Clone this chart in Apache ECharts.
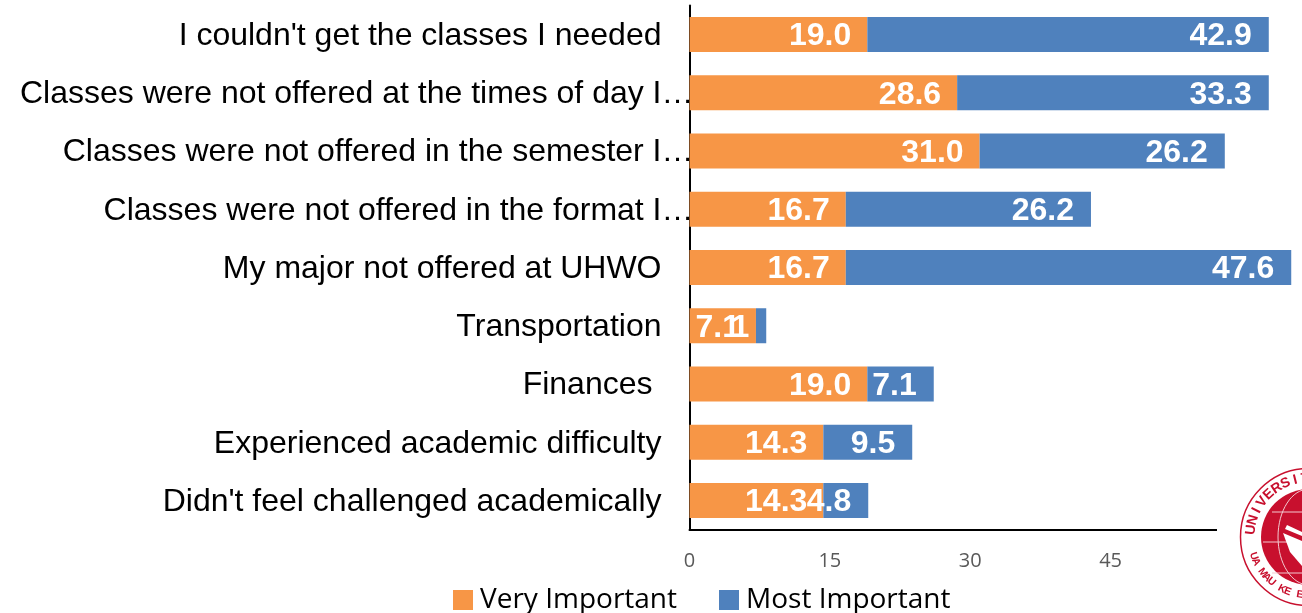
<!DOCTYPE html>
<html><head><meta charset="utf-8">
<style>html,body{margin:0;padding:0;background:#fff}#c{width:1302px;height:613px}</style>
<script src="https://cdn.jsdelivr.net/npm/echarts@6/dist/echarts.min.js"></script>
</head><body><div id="c"></div>
<script>
const categories = ["I couldn't get the classes I needed","Classes were not offered at the times of day I…","Classes were not offered in the semester I…","Classes were not offered in the format I…","My major not offered at UHWO","Transportation","Finances","Experienced academic difficulty","Didn't feel challenged academically"];
const veryImportant = [19.0,28.6,31.0,16.7,16.7,7.1,19.0,14.3,14.3];
const mostImportant = [42.9,33.3,26.2,26.2,47.6,1.1,7.1,9.5,4.8];
const mostLabels = ["42.9","33.3","26.2","26.2","47.6","1","7.1","9.5","4.8"];
const xTicks = [0,15,30,45];
const seriesNames = ["Very Important","Most Important"];
const colors = ["#F79646","#4F81BD"];

const red = "#C8102E";
const cx = 1309, cy = 537;
const logo = [
  {type:'rect',z:100,shape:{x:1217,y:462,width:85,height:151},style:{fill:'#fff'}},
  {type:'circle',z:101,shape:{cx,cy,r:68.5},style:{fill:'#fff',stroke:red,lineWidth:1.5}},
  {type:'circle',z:101,shape:{cx,cy,r:48},style:{fill:red}},
  {type:'ellipse',z:102,shape:{cx,cy,rx:31,ry:48},style:{fill:'none',stroke:'#f3c9cf',lineWidth:1}},
  {type:'line',z:102,shape:{x1:1272,y1:512,x2:1302,y2:512},style:{stroke:'#f3c9cf',lineWidth:1}},
  {type:'line',z:102,shape:{x1:1263,y1:542,x2:1302,y2:542},style:{stroke:'#f3c9cf',lineWidth:1}},
  {type:'line',z:102,shape:{x1:1272,y1:573,x2:1302,y2:573},style:{stroke:'#f3c9cf',lineWidth:1}},
  {type:'polygon',z:102,shape:{points:[[1283,533],[1302,541],[1302,566],[1290,552]]},style:{fill:'#fff'}},
  {type:'polygon',z:102,shape:{points:[[1287,525],[1302,532],[1302,536],[1285,529]]},style:{fill:'#fff'}}
];
function arcText(str, startDeg, stepDeg, r, flip, size){
  [...str].forEach((ch,i)=>{
    const a = (startDeg + i*stepDeg)*Math.PI/180;
    const x = cx + r*Math.cos(a), y = cy + r*Math.sin(a);
    logo.push({type:'text',z:103,x,y,rotation:flip ? -(a-Math.PI/2) : -(a+Math.PI/2),
      style:{text:ch,fill:red,font:'bold '+size+'px "Liberation Sans"',align:'center',verticalAlign:'middle'}});
  });
}
arcText("UNIVERSITY",187,9.9,58.5,false,14);
arcText("UA MAU KE EA O",161,-6.2,58.5,true,10.5);

const chart = echarts.init(document.getElementById('c'),null,{renderer:'canvas'});
const mkSeries = (i,data,dist,texts) => ({
  name:seriesNames[i],type:'bar',stack:'t',barWidth:35,data,
  itemStyle:{color:colors[i]},
  label:{show:true,position:'insideRight',distance:dist,color:'#fff',
    fontFamily:'"Liberation Sans"',fontWeight:'bold',fontSize:32,offset:[0,2],
    formatter:p=>texts[p.dataIndex]}
});
chart.setOption({
  animation:false,
  backgroundColor:'#fff',
  grid:{left:689.5,top:5.4,bottom:83.4,right:0,containLabel:false},
  legend:{left:453,top:586,padding:0,itemWidth:20,itemHeight:20,itemGap:42,icon:'rect',
    textStyle:{fontFamily:'"Open Sans"',fontSize:28,color:'#000',padding:[0,0,0,2]},
    data:seriesNames},
  xAxis:{type:'value',position:'bottom',min:0,max:65.45,interval:15,
    splitLine:{show:false},axisTick:{show:false},
    axisLine:{show:true,onZero:false,lineStyle:{color:'#000',width:2}},
    axisLabel:{customValues:xTicks,margin:22,color:'#595959',fontFamily:'"Open Sans"',fontSize:20}},
  yAxis:{type:'category',inverse:true,data:categories,
    axisTick:{show:false},
    axisLine:{show:true,onZero:false,lineStyle:{color:'#000',width:2}},
    axisLabel:{interval:0,margin:-4,color:'#000',fontFamily:'"Liberation Sans"',fontSize:32,
      formatter:v=>{
        if(v.endsWith('…')) return '{t|'+v+'}';
        if(v==='Finances') return '{f|'+v+'}';
        return '{n|'+v+'}';
      },
      rich:{
        t:{fontFamily:'"Liberation Sans"',fontSize:32,color:'#000',padding:[3,0,0,0]},
        n:{fontFamily:'"Liberation Sans"',fontSize:32,color:'#000',padding:[3,32,0,0]},
        f:{fontFamily:'"Liberation Sans"',fontSize:32,color:'#000',padding:[3,41,0,0]}
      }}},
  series:[mkSeries(0,veryImportant,16,veryImportant.map(v=>v.toFixed(1))),mkSeries(1,mostImportant,17,mostLabels)],
  graphic:{elements:logo}
});
</script></body></html>
